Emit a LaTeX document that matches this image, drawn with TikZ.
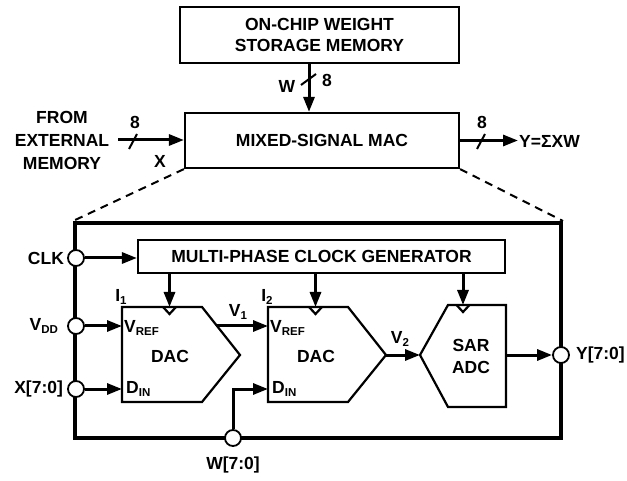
\documentclass[tikz,border=0pt]{standalone}
\usepackage{fontspec}
\setmainfont{Liberation Sans}
\usetikzlibrary{arrows.meta,positioning}
\newcommand\subtx[1]{\raisebox{-3pt}{\fontsize{11.5}{11.5}\selectfont #1}}

\begin{document}
\begin{tikzpicture}[x=1pt,y=-1pt,
  font=\fontsize{17.5}{21}\selectfont\bfseries,
  blk/.style={draw,line width=2.2pt,align=center,inner sep=0pt},
  outl/.style={draw,line width=2.2pt,line join=miter},
  sig/.style={line width=3pt,-{Triangle[length=15pt,width=11pt]}},
  port/.style={circle,draw,fill=white,line width=1.8pt,minimum size=16pt,inner sep=0pt},
  bus/.style={line width=2pt},
  zoomln/.style={line width=2pt,dash pattern=on 8pt off 6pt},
  lab/.style={inner sep=1pt}]
\useasboundingbox (0,0) rectangle (627,481);

% top level
\node[blk,minimum width=279,minimum height=56] (wmem) at (319.5,35) {ON-CHIP WEIGHT\\STORAGE MEMORY};
\node[blk,minimum width=274,minimum height=55] (mac) at (322,140.5) {MIXED-SIGNAL MAC};
\node[lab,align=center,font=\fontsize{17.5}{23}\selectfont\bfseries] (ext) at (62,140) {FROM\\EXTERNAL\\MEMORY};
\node[lab,anchor=west] (yout) at (518,141) {Y=ΣXW};
\coordinate (wbus) at (309,0);

\draw[sig] (wmem.south -| wbus) -- (mac.north -| wbus);
\draw[bus] (301,85) -- (316,74);
\node[lab] (wlab) at (287,86) {W};
\node[lab] (wbits) at (327,80) {8};

\draw[sig] ([xshift=8]ext.east) -- (ext.east -| mac.west);
\draw[bus] (129,149) -- (137,134);
\node[lab] (xbits) at (135,122) {8};
\node[lab] (xlab) at (160,161) {X};

\draw[sig] (mac.east) -- (mac.east -| yout.west);
\draw[bus] (477,149) -- (485,134);
\node[lab] (ybits) at (482,122) {8};

% zoomed view
\node[draw,line width=4pt,minimum width=486,minimum height=215,inner sep=0pt] (chip) at (318,330.5) {};
\draw[zoomln] (mac.south west) -- (chip.north west);
\draw[zoomln] (mac.south east) -- (chip.north east);

\node[blk,minimum width=367,minimum height=33] (clkgen) at (321.5,256.5) {MULTI-PHASE CLOCK GENERATOR};

\foreach \n/\x in {1/122,2/268} {
  \draw[outl] (\x,307) -- ++(80,0) -- ++(38,48) coordinate (d\n out) -- ++(-38,47) -- ++(-80,0) -- cycle;
  \draw[outl] (\x+41,307) -- ++(6.5,7) -- ++(6.5,-7);
  \coordinate (d\n clk) at (\x+47.5,307);
  \coordinate (d\n ref) at (\x,326);
  \coordinate (d\n din) at (\x,389);
  \node[lab,anchor=west] (d\n vref) at (\x+1,328) {V\subtx{REF}};
  \node[lab] (dac\n) at (\x+48,356) {DAC};
  \node[lab,anchor=west] (d\n dinlab) at (\x+3,389) {D\subtx{IN}};
  \node[lab] (i\n) at (\x-1,297) {I\subtx{\n}};
}

\draw[outl] (420,355) coordinate (adcin) -- (448,305) -- (506,305) -- (506,407) -- (448,407) -- cycle;
\draw[outl] (456.5,305) -- (463,312) -- (469.5,305);
\coordinate (adcclk) at (463,305);
\coordinate (adcout) at (506,355);
\node[lab,align=center,font=\fontsize{17.5}{22}\selectfont\bfseries] (adc) at (471,356) {SAR\\ADC};

% ports
\node[port] (clk) at (76,258) {};
\node[port] (vdd) at (76,326) {};
\node[port] (xin) at (76,389) {};
\node[port] (win) at (233,438) {};
\node[port] (yo) at (561,355) {};
\node[lab,left=2pt of clk] (clklab) {CLK};
\node[lab,left=8pt of vdd] (vddlab) {V\subtx{DD}};
\node[lab,left=3pt of xin] (xinlab) {X[7:0]};
\node[lab,below=9pt of win] (winlab) {W[7:0]};
\node[lab,right=5pt of yo] (yolab) {Y[7:0]};

% signals
\draw[sig] (clk) -- (clk -| clkgen.west);
\draw[sig] (vdd) -- (d1ref);
\draw[sig] (xin) -- (d1din);
\draw[sig] (clkgen.south -| d1clk) -- (d1clk);
\draw[sig] (clkgen.south -| d2clk) -- (d2clk);
\draw[sig] (clkgen.south -| adcclk) -- (adcclk);
\coordinate (v1src) at (217,326);
\draw[sig] (v1src) -- (d2ref);
\node[lab] (v1lab) at (238,312) {V\subtx{1}};
\draw[sig] (d2out) -- (adcin);
\node[lab] (v2lab) at (400,339) {V\subtx{2}};
\draw[sig] (win) |- (d2din);
\draw[sig] (adcout) -- (yo);
\end{tikzpicture}
\end{document}
